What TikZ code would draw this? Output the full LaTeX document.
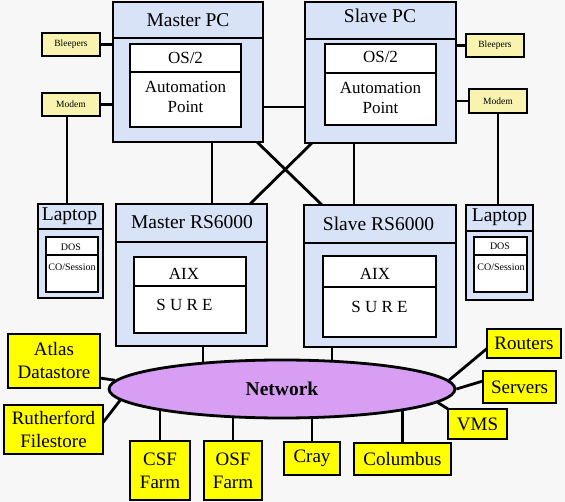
\documentclass[tikz,border=0pt]{standalone}
\usepackage{fontspec}
\setmainfont{Liberation Serif}
\usetikzlibrary{shapes.geometric,calc}
\pgfdeclarelayer{back}\pgfdeclarelayer{bg}
\pgfsetlayers{back,bg,main}
\definecolor{pcblue}{HTML}{D8E3F7}
\definecolor{pale}{HTML}{F8F4B0}
\definecolor{yel}{HTML}{FFFF00}
\definecolor{netc}{HTML}{D89EF4}
\definecolor{bgc}{HTML}{F7F7F7}
\begin{document}
\begin{tikzpicture}[x=1pt,y=-1pt,
 bx/.style={draw,line width=2.8pt,inner sep=0pt,outer sep=0pt,anchor=north west},
 sz/.style 2 args={minimum width=#1,minimum height=#2},
 pcbox/.style={bx,fill=pcblue},
 wbox/.style={bx,fill=white},
 ybox/.style={bx,fill=yel,font=\fontsize{19}{23}\selectfont,align=center},
 sbox/.style={bx,fill=pale,font=\fontsize{9.5}{11}\selectfont},
 lbl/.style={inner sep=0pt,align=center},
 ttl/.style={lbl,font=\fontsize{19.5}{22}\selectfont},
 tmid/.style={lbl,font=\fontsize{17}{20}\selectfont},
 tsmall/.style={lbl,font=\fontsize{10}{12}\selectfont},
 conn/.style={line width=2.8pt},
 divl/.style={line width=2.8pt}]
\useasboundingbox (0,0) rectangle (565,502);
\begin{pgfonlayer}{back}
\fill[bgc] (0,0) rectangle (565,502);
\end{pgfonlayer}

% Master PC
\node[pcbox,sz={150}{140}] (mpc) at (113,2) {};
\node[ttl] (mpct) at (188,20) {Master PC};
\draw[divl] (mpc.west |- 0,38) -- (mpc.east |- 0,38);
\node[wbox,sz={111}{83}] (mpci) at (130,44) {};
\draw[divl] (mpci.west |- 0,72) -- (mpci.east |- 0,72);
\node[tmid] (mos) at (185.5,58) {OS/2};
\node[tmid] (map) at (185.5,97) {Automation\\Point};

% Slave PC
\node[pcbox,sz={151}{141}] (spc) at (305,2) {};
\node[ttl] (spct) at (380,16) {Slave PC};
\draw[divl] (spc.west |- 0,39) -- (spc.east |- 0,39);
\node[wbox,sz={111}{81}] (spci) at (325,44) {};
\draw[divl] (spci.west |- 0,73) -- (spci.east |- 0,73);
\node[tmid] (sos) at (380.5,57) {OS/2};
\node[tmid] (sap) at (380.5,98) {Automation\\Point};

% Master RS6000
\node[pcbox,sz={151}{142}] (mrs) at (116,204) {};
\node[ttl] (mrst) at (192,222) {Master RS6000};
\draw[divl] (mrs.west |- 0,242) -- (mrs.east |- 0,242);
\node[wbox,sz={112}{76}] (mrsi) at (134,257) {};
\draw[divl] (mrsi.west |- 0,286) -- (mrsi.east |- 0,286);
\node[tmid] (maix) at (184,274) {AIX};
\node[tmid] (msure) at (184.5,305) {S U R E};

% Slave RS6000
\node[pcbox,sz={152}{142}] (srs) at (304,205) {};
\node[ttl] (srst) at (378.5,224) {Slave RS6000};
\draw[divl] (srs.west |- 0,243) -- (srs.east |- 0,243);
\node[wbox,sz={113}{81}] (srsi) at (323,256) {};
\draw[divl] (srsi.west |- 0,287) -- (srsi.east |- 0,287);
\node[tmid] (saix) at (375,274) {AIX};
\node[tmid] (ssure) at (379.5,307) {S U R E};

% Laptops
\node[pcbox,sz={65}{94},line width=2.4pt] (lapL) at (38,204) {};
\node[ttl] (lapLt) at (69.5,216) {Laptop};
\draw[divl,line width=2.4pt] (lapL.west |- 0,229) -- (lapL.east |- 0,229);
\node[wbox,sz={52}{55},line width=2.4pt] (lapLi) at (46,237) {};
\draw[divl,line width=2.4pt] (lapLi.west |- 0,255) -- (lapLi.east |- 0,255);
\node[tsmall] (lapLd) at (71,247) {DOS};
\node[tsmall] (lapLc) at (72,267) {CO/Session};

\node[pcbox,sz={67}{95},line width=2.4pt] (lapR) at (466,205) {};
\node[ttl] (lapRt) at (499.5,217) {Laptop};
\draw[divl,line width=2.4pt] (lapR.west |- 0,231) -- (lapR.east |- 0,231);
\node[wbox,sz={53}{55},line width=2.4pt] (lapRi) at (474,237) {};
\draw[divl,line width=2.4pt] (lapRi.west |- 0,255) -- (lapRi.east |- 0,255);
\node[tsmall] (lapRd) at (500,246) {DOS};
\node[tsmall] (lapRc) at (501,267) {CO/Session};

% small boxes
\node[sbox,sz={58}{23}] (bleepL) at (42,33) {Bleepers};
\node[sbox,sz={58}{23}] (modemL) at (42,93) {Modem};
\node[sbox,sz={58}{23}] (bleepR) at (466,34) {Bleepers};
\node[sbox,sz={58}{24}] (modemR) at (469,89) {Modem};

% network
\node[ellipse,draw,line width=2.8pt,fill=netc,minimum width=346,minimum height=58,inner sep=0pt,font=\bfseries\fontsize{19.5}{22}\selectfont] (net) at (282,389) {Network};

% yellow boxes
\node[ybox,sz={92}{54}] (atlas) at (8,334) {Atlas\\Datastore};
\node[ybox,sz={99}{49}] (ruth) at (4,405) {Rutherford\\Filestore};
\node[ybox,sz={60}{59}] (csf) at (130,441) {CSF\\Farm};
\node[ybox,sz={58}{59}] (osf) at (204,441) {OSF\\Farm};
\node[ybox,sz={56}{33}] (cray) at (284,442) {Cray};
\node[ybox,sz={97}{32}] (colum) at (354,443) {Columbus};
\node[ybox,sz={59}{30}] (vms) at (448,409) {VMS};
\node[ybox,sz={73}{32}] (servers) at (483,371) {Servers};
\node[ybox,sz={74}{29}] (routers) at (487,329) {Routers};

\begin{pgfonlayer}{bg}
\draw[conn] (bleepL.east) -- (bleepL.east -| mpc.west);
\draw[conn] (modemL.east) -- (modemL.east -| mpc.west);
\draw[conn] (bleepR.west) -- (bleepR.west -| spc.east);
\draw[conn] (modemR.west) -- (modemR.west -| spc.east);
\coordinate (ml) at ([xshift=-4pt]modemL.south);
\draw[conn] (ml) -- (ml |- lapL.north);
\draw[conn] (modemR.south) -- (modemR.south |- lapR.north);
\coordinate (pcl) at ([yshift=-35pt]mpc.east);
\draw[conn] (pcl) -- (pcl -| spc.west);
\coordinate (v1) at ([xshift=24pt]mpc.south);
\draw[conn] (v1) -- (v1 |- mrs.north);
\coordinate (v2) at ([xshift=-26.5pt]spc.south);
\draw[conn] (v2) -- (v2 |- srs.north);
\draw[conn] ([xshift=-6pt]mpc.south east) -- ([xshift=18pt]srs.north west);
\draw[conn] ([xshift=7pt]spc.south west) -- ([xshift=-17pt]mrs.north east);
\coordinate (v3) at ([xshift=11.5pt]mrs.south);
\draw[conn] (v3) -- (v3 |- net.center);
\coordinate (v4) at ([xshift=-48pt]srs.south);
\draw[conn] (v4) -- (v4 |- net.center);
\draw[conn] (csf.north) -- (csf.north |- net.center);
\draw[conn] (osf.north) -- (osf.north |- net.center);
\draw[conn] (cray.north) -- (cray.north |- net.center);
\draw[conn] (colum.north) -- (colum.north |- net.center);
\draw[conn] ([yshift=10pt]atlas.south east) -- (net.177.6);
\draw[conn] ([yshift=7pt]ruth.east) -- (net.184.2);
\draw[conn] (vms.north west) -- (net.355.7);
\draw[conn] ([yshift=6pt]servers.west) -- (net.east);
\draw[conn] ([yshift=-5pt]routers.west) -- (net.3.1);
\end{pgfonlayer}
\end{tikzpicture}
\end{document}
